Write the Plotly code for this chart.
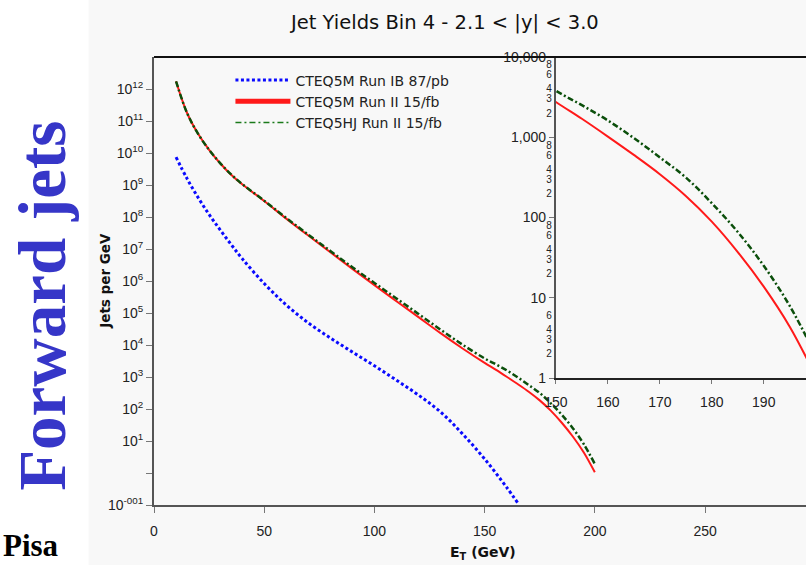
import plotly.graph_objects as go

# Jet yields per GeV vs E_T, 2.1 < |y| < 3.0
et_ib = [10, 15, 20, 25, 30, 35, 40, 50, 60, 70, 80, 90, 100, 110, 120, 130, 140, 150, 160, 165]
yield_ib = [7.41e9, 1.58e9, 4.07e8, 1.20e8, 3.98e7, 1.38e7, 5.01e6, 8.32e5, 1.78e5, 4.90e4,
            1.66e4, 6.03e3, 2.24e3, 794, 272, 81.0, 16.6, 2.75, 0.355, 0.117]

et_run2 = [10, 15, 20, 25, 30, 35, 40, 50, 60, 70, 80, 90, 100, 110, 120, 130, 140, 150,
           155, 160, 165, 170, 175, 180, 185, 190, 195, 200]
yield_cteq5m = [1.74e12, 1.78e11, 3.98e10, 1.26e10, 4.79e9, 2.09e9, 1.05e9, 3.16e8, 8.91e7, 2.63e7,
                7.94e6, 2.40e6, 7.41e5, 2.34e5, 7.41e4, 2.34e4, 7.76e3, 2.75e3,
                1.70e3, 1.02e3, 603, 347, 186, 89.1, 37.2, 13.8, 4.37, 1.05]
yield_cteq5hj = [1.74e12, 1.78e11, 3.98e10, 1.26e10, 4.85e9, 2.14e9, 1.07e9, 3.24e8, 9.33e7, 2.82e7,
                 8.71e6, 2.69e6, 8.71e5, 2.85e5, 9.33e4, 3.02e4, 1.02e4, 3.80e3,
                 2.51e3, 1.62e3, 977, 562, 316, 151, 66.1, 25.1, 7.94, 1.91]

names = ["CTEQ5M Run IB 87/pb", "CTEQ5M Run II 15/fb", "CTEQ5HJ Run II 15/fb"]

main_ytick_vals = [10.0 ** k for k in range(-1, 13)]
main_ytick_text = ["10<sup>-001</sup>", ""] + ["10<sup>%d</sup>" % k for k in range(1, 13)]
main_xtick_vals = [0, 50, 100, 150, 200, 250]

inset_major_vals = [1, 10, 100, 1000, 10000]
inset_major_text = ["1", "10", "100", "1,000", "10,000"]
inset_minor_vals = [2, 3, 4, 6, 20, 30, 40, 60, 80, 200, 300, 400, 600, 800, 2000, 3000, 4000, 6000, 8000]
inset_minor_text = ["2", "3", "4", "6", "2", "3", "4", "6", "8", "2", "3", "4", "6", "8",
                    "2", "3", "4", "6", "8"]
inset_xtick_vals = [150, 160, 170, 180, 190]

BLUE = "#0a0aff"
RED = "#ff1a1a"
GREEN = "#0b4f0b"
BG = "#f8f8f8"
FONT = "Liberation Sans, Arial, sans-serif"
WIDE = "DejaVu Sans, Verdana, sans-serif"
SERIF = "Liberation Serif, Times New Roman, serif"

# pixel geometry of the main plot area
W, H = 806, 565
L, R, T, B = 153.5, 806, 56.5, 505


def px(xp):
    return (xp - L) / (R - L)


def py(yp):
    return (B - yp) / (B - T)


blue_line = dict(color=BLUE, width=3, dash="3px,2.5px", shape="spline")
red_line = dict(color=RED, width=2, shape="spline")
green_line = dict(color=GREEN, width=2.5, dash="6px,2.5px,2px,2.5px", shape="spline")

fig = go.Figure()

# main panel
fig.add_trace(go.Scatter(x=et_ib, y=yield_ib, mode="lines", line=blue_line, showlegend=False,
                         xaxis="x", yaxis="y"))
fig.add_trace(go.Scatter(x=et_run2, y=yield_cteq5m, mode="lines", line=red_line, showlegend=False,
                         xaxis="x", yaxis="y"))
fig.add_trace(go.Scatter(x=et_run2, y=yield_cteq5hj, mode="lines", line=green_line, showlegend=False,
                         xaxis="x", yaxis="y"))

# inset: high-E_T tail on a finer scale
fig.add_trace(go.Scatter(x=et_run2, y=yield_cteq5m, mode="lines", line=red_line, showlegend=False,
                         xaxis="x2", yaxis="y3"))
fig.add_trace(go.Scatter(x=et_run2, y=yield_cteq5hj, mode="lines", line=green_line, showlegend=False,
                         xaxis="x2", yaxis="y3"))
# carrier for the small intermediate labels of the inset axis
fig.add_trace(go.Scatter(x=et_run2, y=yield_cteq5m, mode="lines", line=dict(width=0), opacity=0,
                         hoverinfo="skip", showlegend=False, xaxis="x2", yaxis="y4"))

# legend entries
fig.add_trace(go.Scatter(x=[None], y=[None], mode="lines", name=names[0],
                         line=dict(color=BLUE, width=3, dash="3px,2.5px")))
fig.add_trace(go.Scatter(x=[None], y=[None], mode="lines", name=names[1],
                         line=dict(color=RED, width=5)))
fig.add_trace(go.Scatter(x=[None], y=[None], mode="lines", name=names[2],
                         line=dict(color="#1a7a1a", width=1.5, dash="6px,3px,2px,3px")))

tickfont = dict(family=FONT, size=14, color="#222")

inset_x0 = px(555.7)
inset_y0 = py(378)

fig.update_layout(
    width=W, height=H,
    margin=dict(l=L, r=W - R, t=T, b=H - B),
    paper_bgcolor="white",
    plot_bgcolor=BG,
    font=dict(family=FONT, color="#222"),
    xaxis=dict(domain=[0, 1], range=[0, 295.8], tickvals=main_xtick_vals, ticks="outside", ticklen=6,
               tickcolor="#777", showline=True, linecolor="#555", linewidth=2, showgrid=False,
               zeroline=False, tickfont=tickfont, ticklabelstandoff=6, anchor="y"),
    yaxis=dict(domain=[0, 1], type="log", range=[-1, 13], tickvals=main_ytick_vals, ticktext=main_ytick_text,
               ticks="outside", ticklen=6, tickcolor="#777", showline=True, linecolor="#555", linewidth=2,
               showgrid=False, zeroline=False, tickfont=tickfont, anchor="x"),
    xaxis2=dict(domain=[inset_x0, 1], range=[150, 198.13], tickvals=inset_xtick_vals, ticks="outside",
                ticklen=4, tickcolor="#777", showline=True, linecolor="#222", linewidth=2, showgrid=False,
                zeroline=False, tickfont=tickfont, ticklabelstandoff=6, anchor="y3"),
    yaxis3=dict(domain=[inset_y0, 1], type="log", range=[0, 4], tickvals=inset_major_vals,
                ticktext=inset_major_text, ticks="outside", ticklen=5, tickcolor="#777", showline=True,
                linecolor="#555", linewidth=2, showgrid=False, zeroline=False, tickfont=tickfont,
                anchor="x2"),
    yaxis4=dict(domain=[inset_y0, 1], type="log", range=[0, 4], tickvals=inset_minor_vals,
                ticktext=inset_minor_text, ticks="", showline=False, showgrid=False, zeroline=False,
                tickfont=dict(family=FONT, size=10, color="#222"), anchor="x2", overlaying="y3",
                side="left", ticklabelstandoff=3),
    legend=dict(x=px(230), y=py(64), xanchor="left", yanchor="top", bgcolor="rgba(0,0,0,0)",
                font=dict(family=WIDE, size=14, color="#222"), itemwidth=55, tracegroupgap=0),
    shapes=[
        dict(type="rect", xref="paper", yref="paper", x0=px(88), x1=1.05, y0=py(H + 5), y1=py(-5),
             fillcolor=BG, line=dict(width=0), layer="below"),
        dict(type="line", xref="paper", yref="paper", x0=0, x1=1, y0=1, y1=1,
             line=dict(color="#111", width=2)),
    ],
    annotations=[
        dict(text="Jet Yields Bin 4 - 2.1 < |y| < 3.0", xref="paper", yref="paper", x=px(444), y=py(22),
             xanchor="center", yanchor="middle", showarrow=False,
             font=dict(family=WIDE, size=19.5, color="#111")),
        dict(text="<b>Jets per GeV</b>", xref="paper", yref="paper", x=px(105), y=py(281), textangle=-90,
             xanchor="center", yanchor="middle", showarrow=False,
             font=dict(family=WIDE, size=13.5, color="#111")),
        dict(text="<b>E<sub>T</sub> (GeV)</b>", xref="paper", yref="paper", x=px(483), y=py(553),
             xanchor="center", yanchor="middle", showarrow=False,
             font=dict(family=WIDE, size=14, color="#111")),
        dict(text="<b>Forward jets</b>", xref="paper", yref="paper", x=px(42), y=py(306), textangle=-90,
             xanchor="center", yanchor="middle", showarrow=False,
             font=dict(family=SERIF, size=67, color="#3636c8")),
        dict(text="<b>Pisa</b>", xref="paper", yref="paper", x=px(1), y=py(546), xanchor="left",
             yanchor="middle", showarrow=False, borderpad=0,
             font=dict(family=SERIF, size=31, color="#000")),
    ],
)

fig.write_html("out.html")
